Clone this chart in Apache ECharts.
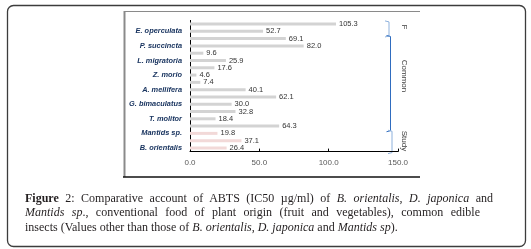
<!DOCTYPE html>
<html>
<head>
<meta charset="utf-8">
<script src="https://cdn.jsdelivr.net/npm/echarts@6/dist/echarts.min.js"></script>
<style>
  html, body { margin: 0; padding: 0; background: #fff; }
  #chart { width: 531px; height: 249px; }
  #caption {
    position: absolute;
    left: 25px;
    top: 190.5px;
    font-family: "Liberation Serif", serif;
    font-size: 12px;
    line-height: 14.5px;
    color: #231f20;
    white-space: nowrap;
  }
  #caption div { text-align: justify; text-align-last: justify; }
  #caption div.last { text-align: left; text-align-last: left; }
  #caption b { font-weight: bold; }
</style>
</head>
<body>
<div id="chart"></div>
<div id="caption">
  <div style="width:468px"><b>Figure</b> 2: Comparative account of ABTS (IC50 &micro;g/ml) of <i>B. orientalis</i>, <i>D. japonica</i> and</div>
  <div style="width:455px"><i>Mantids sp</i>., conventional food of plant origin (fruit and vegetables), common edible</div>
  <div class="last">insects (Values other than those of <i>B. orientalis</i>, <i>D. japonica</i> and <i>Mantids sp</i>).</div>
</div>
<script>
// categories top to bottom; Excel only printed every second name
const categories = [
  "Fruit/veg 1", "E. operculata",
  "Insect 1", "P. succincta",
  "Insect 2", "L. migratoria",
  "Insect 3", "Z. morio",
  "Insect 4", "A. mellifera",
  "Insect 5", "G. bimaculatus",
  "Insect 6", "T. molitor",
  "Insect 7", "Mantids sp.",
  "D. japonica", "B. orientalis",
];
const values = [
  105.3, 52.7, 69.1, 82.0, 9.6, 25.9, 17.6, 4.6, 7.4,
  40.1, 62.1, 30.0, 32.8, 18.4, 64.3, 19.8, 37.1, 26.4,
];
const groups = [
  "F", "F",
  "Common", "Common", "Common", "Common", "Common", "Common", "Common",
  "Common", "Common", "Common", "Common", "Common", "Common",
  "Study", "Study", "Study",
];
const xTicks = [0, 50, 100, 150];

const groupColor = { F: "#d3d3d3", Common: "#d3d3d3", Study: "#f2d9d8" };
const sans = '"Liberation Sans", Arial, sans-serif';

const chart = echarts.init(document.getElementById("chart"));

const frame = [
  {
    type: "rect",
    shape: { x: 7.5, y: 5.5, width: 518, height: 241, r: 6 },
    style: { fill: null, stroke: "#3c3c3c", lineWidth: 1.3 },
  },
  { type: "line", shape: { x1: 124, y1: 11.5, x2: 420, y2: 11.5 }, style: { stroke: "#8a8a8a", lineWidth: 1 } },
  { type: "line", shape: { x1: 124.5, y1: 11, x2: 124.5, y2: 177 }, style: { stroke: "#8a8a8a", lineWidth: 2 } },
  { type: "line", shape: { x1: 123, y1: 177, x2: 420, y2: 177 }, style: { stroke: "#111", lineWidth: 1.5 } },
];

chart.setOption({
  animation: false,
  grid: { left: 190, right: 133, top: 20.4, bottom: 97.4 },
  xAxis: {
    type: "value",
    min: 0,
    max: 150,
    interval: 50,
    axisLine: { show: true, lineStyle: { color: "#000", width: 1 } },
    axisTick: { show: true, inside: true, length: 3, lineStyle: { color: "#000" } },
    splitLine: { show: false },
    axisLabel: {
      color: "#595959",
      fontFamily: sans,
      fontSize: 8,
      margin: 7,
      formatter: (v) => (xTicks.includes(v) ? v.toFixed(1) : ""),
    },
  },
  yAxis: {
    type: "category",
    inverse: true,
    data: categories,
    axisLine: { show: true, lineStyle: { color: "#000", width: 1 } },
    axisTick: { show: false },
    axisLabel: {
      interval: (index) => index % 2 === 1,
      color: "#1a3560",
      fontFamily: sans,
      fontStyle: "italic",
      fontWeight: "bold",
      fontSize: 7.4,
      margin: 8,
    },
  },
  series: [
    {
      type: "bar",
      barWidth: 3,
      data: values.map((v, i) => ({
        value: v,
        itemStyle: { color: groupColor[groups[i]] },
      })),
      label: {
        show: true,
        position: "right",
        distance: 3,
        color: "#333",
        fontFamily: sans,
        fontSize: 7.5,
        formatter: (p) => p.value.toFixed(1),
      },
    },
  ],
  graphic: frame,
});

// group brackets on the right, placed from the category scale
const band = chart.convertToPixel({ yAxisIndex: 0 }, 1) - chart.convertToPixel({ yAxisIndex: 0 }, 0);
const edge = (i) => chart.convertToPixel({ yAxisIndex: 0 }, i) - band / 2;
const bracketDefs = [
  { name: "F", from: 0, to: 1, x: 389, color: "#8eb1dc", textY: 27 },
  { name: "Common", from: 2, to: 14, x: 390.5, color: "#2f6cbf", textY: 76 },
  { name: "Study", from: 15, to: 17, x: 392, color: "#8eb1dc", textY: 141 },
];
const brackets = [];
bracketDefs.forEach((b) => {
  const y1 = edge(b.from) + 0.5;
  const y2 = edge(b.to + 1) + 2;
  brackets.push({
    type: "polyline",
    shape: { points: [[b.x - 4, y1], [b.x, y1 + 1], [b.x, y2 - 1], [b.x - 4, y2]] },
    style: { fill: null, stroke: b.color, lineWidth: 1 },
  });
  brackets.push({
    type: "text",
    x: 404,
    y: b.textY,
    rotation: -Math.PI / 2,
    style: {
      text: b.name,
      fill: "#404040",
      fontFamily: sans,
      fontSize: 8,
      align: "center",
      verticalAlign: "middle",
    },
  });
});
chart.setOption({ graphic: frame.concat(brackets) });
</script>
</body>
</html>
